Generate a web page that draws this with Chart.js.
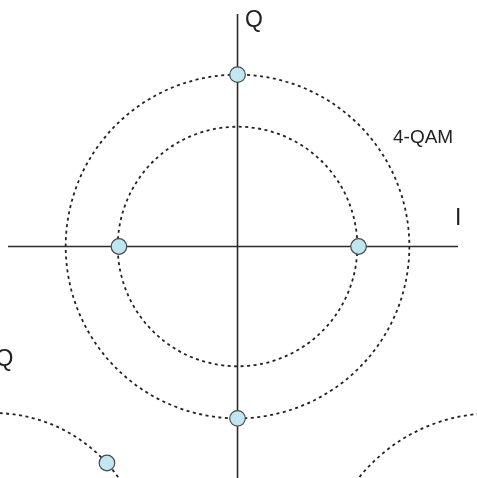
<!DOCTYPE html>
<html>
<head>
<meta charset="utf-8">
<script src="https://cdn.jsdelivr.net/npm/chart.js@4/dist/chart.umd.min.js"></script>
<style>
  html, body { margin: 0; padding: 0; background: #fff; }
  #wrap { width: 477px; height: 478px; position: relative; }
</style>
</head>
<body>
<div id="wrap"><canvas id="c"></canvas></div>
<script>
// constellation points (I, Q)
const qamI = [0, -0.98, 1.0, 0];
const qamQ = [1.42, 0, 0, -1.42];
// point of the neighbouring diagram (lower left)
const otherI = [-1.079];
const otherQ = [-1.789];
// dashed rings: centre and radius
const ringI = [0, 0, -2.012, 2.112];
const ringQ = [0, 0, -2.632, -2.798];
const ringR = [0.99, 1.42, 1.256, 1.42];
// axis line ends
const axisI = [-1.897, 1.822];
const axisQ = [1.921, -2.0];
// texts
const labelText = ['Q', 'I', '4-QAM', 'Q'];
const labelI = [0.062, 1.798, 1.285, -2.0];
const labelQ = [1.814, 0.178, 0.855, -0.988];
const labelSize = [23, 23, 19, 23];

const ink = '#2b2b2b';

const rings = {
  id: 'rings',
  beforeDatasetsDraw(chart) {
    const { ctx, scales: { x, y } } = chart;
    ctx.save();
    ctx.strokeStyle = '#222';
    ctx.lineWidth = 1.8;
    ctx.setLineDash([3, 3.5]);
    ringR.forEach((r, i) => {
      const cx = x.getPixelForValue(ringI[i]);
      const cy = y.getPixelForValue(ringQ[i]);
      const rp = x.getPixelForValue(ringI[i] + r) - cx;
      ctx.beginPath();
      ctx.arc(cx, cy, rp, 0, Math.PI * 2);
      ctx.stroke();
    });
    ctx.restore();
  },
  afterDatasetsDraw(chart) {
    const { ctx, scales: { x, y } } = chart;
    ctx.save();
    ctx.fillStyle = '#222';
    ctx.textBaseline = 'alphabetic';
    ctx.textAlign = 'left';
    labelText.forEach((t, i) => {
      ctx.font = labelSize[i] + 'px "Liberation Sans", Arial, sans-serif';
      ctx.fillText(t, x.getPixelForValue(labelI[i]), y.getPixelForValue(labelQ[i]));
    });
    ctx.restore();
  }
};

const pointStyle = {
  showLine: false,
  pointRadius: 7.8,
  pointBackgroundColor: '#c0e7f1',
  pointBorderColor: '#4a4a4a',
  pointBorderWidth: 1.2,
  pointHoverRadius: 7.8
};

new Chart(document.getElementById('c'), {
  type: 'scatter',
  data: {
    datasets: [
      { data: axisI.map(v => ({ x: v, y: 0 })), showLine: true, borderColor: ink, borderWidth: 1.6, pointRadius: 0, order: 3 },
      { data: axisQ.map(v => ({ x: 0, y: v })), showLine: true, borderColor: ink, borderWidth: 1.6, pointRadius: 0, order: 3 },
      { data: qamI.map((v, i) => ({ x: v, y: qamQ[i] })), ...pointStyle, order: 1 },
      { data: otherI.map((v, i) => ({ x: v, y: otherQ[i] })), ...pointStyle, order: 1 }
    ]
  },
  options: {
    responsive: true,
    maintainAspectRatio: false,
    animation: false,
    layout: { padding: 0, autoPadding: false },
    events: [],
    scales: {
      x: { type: 'linear', display: false, min: -1.963, max: 1.979 },
      y: { type: 'linear', display: false, min: -1.913, max: 2.037 }
    },
    plugins: { legend: { display: false }, tooltip: { enabled: false } }
  },
  plugins: [rings]
});
</script>
</body>
</html>
